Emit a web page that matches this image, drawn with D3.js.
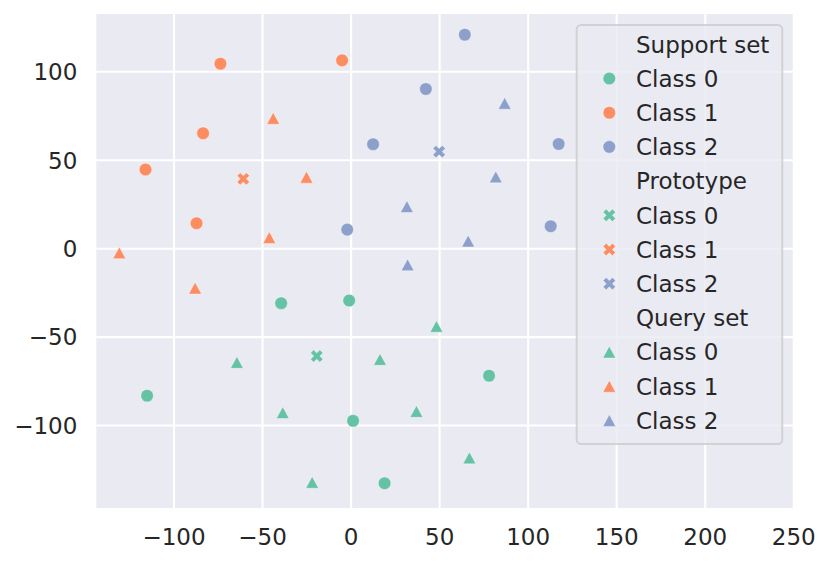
<!DOCTYPE html>
<html>
<head>
<meta charset="utf-8">
<script src="https://cdn.jsdelivr.net/npm/d3@7"></script>
<style>
  html, body { margin: 0; padding: 0; background: #ffffff; }
  svg { display: block; }
  text { font-family: "DejaVu Sans", sans-serif; fill: #262626; }
</style>
</head>
<body>
<svg id="chart" width="830" height="562"></svg>
<script>
// ---- Data ----
const classes = ["Class 0", "Class 1", "Class 2"];
const groups = ["Support set", "Prototype", "Query set"];

// Support set (circles)
const support0 = [[-39.2, -31.1], [-0.8, -29.6], [-114.9, -83.4], [1.4, -97.6], [19.2, -132.9], [78.2, -72.1]];
const support1 = [[-73.5, 104.3], [-4.8, 106.2], [-83.3, 65.0], [-115.8, 44.5], [-87.0, 14.1]];
const support2 = [[64.5, 120.7], [42.5, 90.0], [12.7, 58.8], [117.5, 58.9], [-1.9, 10.5], [113.0, 12.4]];

// Prototypes (X markers)
const proto0 = [[-19.1, -61.0]];
const proto1 = [[-60.6, 39.2]];
const proto2 = [[50.0, 54.6]];

// Query set (triangles)
const query0 = [[-64.2, -64.6], [16.6, -62.9], [-38.3, -93.0], [-21.7, -132.4], [48.5, -44.2], [37.2, -92.3], [67.1, -118.6]];
const query1 = [[-43.7, 73.4], [-24.9, 40.1], [-45.9, 6.0], [-130.6, -2.6], [-87.8, -22.6]];
const query2 = [[87.0, 81.9], [82.0, 40.3], [31.8, 23.5], [66.4, 4.0], [32.2, -9.4]];

const xTicks = [-100, -50, 0, 50, 100, 150, 200, 250];
const yTicks = [-100, -50, 0, 50, 100];
const palette = ["#66c2a5", "#fc8d62", "#8da0cb"];

// ---- Layout ----
const plot = { left: 96.3, right: 793.3, top: 14, bottom: 508 };
const fontSize = 23;

const x = d3.scaleLinear().domain([-143.6, 250]).range([plot.left, plot.right]);
const y = d3.scaleLinear().domain([-146.9, 132.4]).range([plot.bottom, plot.top]);

const svg = d3.select("#chart");

// background
svg.append("rect")
  .attr("x", plot.left).attr("y", plot.top)
  .attr("width", plot.right - plot.left).attr("height", plot.bottom - plot.top)
  .attr("fill", "#eaeaf2");

// grid via axes
const fmt = d => d3.format("d")(d).replace("-", "\u2212");
const xAxis = d3.axisBottom(x).tickValues(xTicks).tickSize(-(plot.bottom - plot.top)).tickPadding(0).tickFormat(fmt);
const yAxis = d3.axisLeft(y).tickValues(yTicks).tickSize(-(plot.right - plot.left)).tickPadding(0).tickFormat(fmt);

const gx = svg.append("g").attr("transform", `translate(0,${plot.bottom})`).call(xAxis);
const gy = svg.append("g").attr("transform", `translate(${plot.left},0)`).call(yAxis);

[gx, gy].forEach(g => {
  g.select(".domain").remove();
  g.selectAll(".tick line").attr("stroke", "#ffffff").attr("stroke-width", 2.1);
  g.selectAll(".tick text")
    .attr("fill", "#262626")
    .style("font-family", "'DejaVu Sans', sans-serif")
    .style("font-size", fontSize + "px");
});
gx.selectAll(".tick text").attr("y", 36.7).attr("dy", null);
gy.selectAll(".tick text").attr("x", 77.3 - plot.left).attr("dy", "0.36em");

// ---- Marker shapes ----
const circlePath = d3.symbol().type(d3.symbolCircle).size(Math.PI * 6.3 * 6.3)();
// filled "X" like matplotlib's 'X' marker
const xu = 3.1;
const xVerts = [[-1, -2], [0, -1], [1, -2], [2, -1], [1, 0], [2, 1], [1, 2], [0, 1], [-1, 2], [-2, 1], [-1, 0], [-2, -1]];
const crossPath = "M" + xVerts.map(v => `${v[0] * xu},${v[1] * xu}`).join("L") + "Z";
function triPath(w, h) {
  return `M0,${-h / 2}L${w / 2},${h / 2}L${-w / 2},${h / 2}Z`;
}
const trianglePath = triPath(12.8, 11.8);
const shapes = { "Support set": circlePath, "Prototype": crossPath, "Query set": trianglePath };

const seriesList = [
  { group: "Support set", cls: 0, pts: support0 },
  { group: "Support set", cls: 1, pts: support1 },
  { group: "Support set", cls: 2, pts: support2 },
  { group: "Prototype", cls: 0, pts: proto0 },
  { group: "Prototype", cls: 1, pts: proto1 },
  { group: "Prototype", cls: 2, pts: proto2 },
  { group: "Query set", cls: 0, pts: query0 },
  { group: "Query set", cls: 1, pts: query1 },
  { group: "Query set", cls: 2, pts: query2 }
];

const marks = svg.append("g");
seriesList.forEach(s => {
  marks.selectAll(null).data(s.pts).enter().append("path")
    .attr("d", shapes[s.group])
    .attr("transform", d => `translate(${x(d[0])},${y(d[1])})`)
    .attr("fill", palette[s.cls])
    .attr("stroke", "#ffffff")
    .attr("stroke-width", 0.4);
});

// ---- Legend ----
const leg = { x: 576.7, y: 25, w: 205.6, h: 419, row0: 44.3, rowStep: 34.2, markX: 609.3, textX: 636 };
const lg = svg.append("g");
lg.append("rect")
  .attr("x", leg.x).attr("y", leg.y).attr("width", leg.w).attr("height", leg.h)
  .attr("rx", 4.5).attr("ry", 4.5)
  .attr("fill", "#eaeaf2").attr("fill-opacity", 0.8)
  .attr("stroke", "#cccccc").attr("stroke-opacity", 0.8).attr("stroke-width", 2);

const legendRows = [];
groups.forEach(g => {
  legendRows.push({ label: g, header: true });
  classes.forEach((c, i) => legendRows.push({ label: c, group: g, cls: i }));
});

legendRows.forEach((r, i) => {
  const cy = leg.row0 + i * leg.rowStep;
  if (!r.header) {
    lg.append("path")
      .attr("d", shapes[r.group])
      .attr("transform", `translate(${leg.markX},${cy})`)
      .attr("fill", palette[r.cls])
      .attr("stroke", "#ffffff").attr("stroke-width", 0.4);
  }
  lg.append("text")
    .attr("x", leg.textX).attr("y", cy).attr("dy", "0.36em")
    .style("font-size", fontSize + "px")
    .text(r.label);
});
</script>
</body>
</html>
